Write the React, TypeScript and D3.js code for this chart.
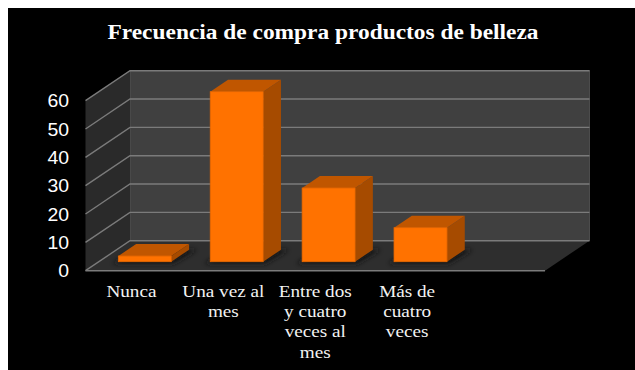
import React from "react";
import * as d3 from "d3";

const categories = ["Nunca", "Una vez al mes", "Entre dos y cuatro veces al mes", "Más de cuatro veces", ""];
const categoryLines = [["Nunca"], ["Una vez al", "mes"], ["Entre dos", "y cuatro", "veces al", "mes"], ["Más de", "cuatro", "veces"], []];
const values = [2, 60, 26, 12];
const yTicks = [0, 10, 20, 30, 40, 50, 60];
const title = "Frecuencia de compra productos de belleza";

const WIDTH = 635;
const HEIGHT = 370;
const DEPTH_X = 44.5;
const DEPTH_Y = -30;
const BAR_START = 0.3;
const BAR_DEPTH = 0.4;

const x = d3.scaleBand<string>().domain(categories).range([85.5, 545]).paddingInner(0.424).paddingOuter(0.212);
const y = d3.scaleLinear().domain([0, 60]).range([270.7, 100.7]);

const poly = (pts: [number, number][]) => pts.map((p) => p.join(",")).join(" ");

export default function App() {
  const x0 = x.range()[0];
  const x1 = x.range()[1];
  const yBase = y(0);
  const yTop = y(60);
  const grid = "#7b7b7b";

  return (
    <svg width={WIDTH} height={HEIGHT} style={{ position: "absolute", left: 0, top: 0, background: "#fff" }}>
      <defs>
        <filter id="soft" x="-30%" y="-60%" width="160%" height="220%">
          <feGaussianBlur stdDeviation="2.6" />
        </filter>
        <clipPath id="floorClip">
          <polygon points={poly([[x0, yBase], [x1, yBase], [x1 + DEPTH_X, yBase + DEPTH_Y], [x0 + DEPTH_X, yBase + DEPTH_Y]])} />
        </clipPath>
      </defs>
      <rect x={8} y={8} width={WIDTH - 8} height={HEIGHT - 8} fill="#000" />

      {/* the type is set wide: each label is stretched horizontally about its centre */}
      <text
        transform="translate(323,39) scale(1.17,1)"
        textAnchor="middle"
        fill="#fff"
        fontFamily="'Liberation Serif', serif"
        fontWeight="bold"
        fontSize={20}
      >
        {title}
      </text>

      {/* chart box: back wall, side wall, floor */}
      <rect x={x0 + DEPTH_X} y={yTop + DEPTH_Y} width={x1 - x0} height={yBase - yTop} fill="#404040" stroke="#575757" strokeWidth={0.8} />
      <polygon points={poly([[x0, yBase], [x0 + DEPTH_X, yBase + DEPTH_Y], [x0 + DEPTH_X, yTop + DEPTH_Y], [x0, yTop]])} fill="#2a2a2a" />
      <polygon points={poly([[x0, yBase], [x1, yBase], [x1 + DEPTH_X, yBase + DEPTH_Y], [x0 + DEPTH_X, yBase + DEPTH_Y]])} fill="#2e2e2e" />

      {yTicks.map((t) => (
        <g key={t}>
          <polyline
            points={poly([[x0, y(t)], [x0 + DEPTH_X, y(t) + DEPTH_Y], [x1 + DEPTH_X, y(t) + DEPTH_Y]])}
            fill="none"
            stroke={grid}
            strokeWidth={1.4}
          />
          <text
            transform={`translate(69,${y(t)}) scale(1.08,1)`}
            dy="0.36em"
            textAnchor="end"
            fill="#fff"
            fontFamily="'Liberation Sans', sans-serif"
            fontSize={18}
          >
            {t}
          </text>
        </g>
      ))}
      <line x1={x0} x2={x1} y1={yBase} y2={yBase} stroke={grid} strokeWidth={1.6} />

      {/* contact shadows on the floor */}
      <g clipPath="url(#floorClip)">
        {values.map((_, i) => {
          const left = x(categories[i])! + DEPTH_X * BAR_START;
          const w = x.bandwidth();
          const b = yBase + DEPTH_Y * BAR_START;
          const dx = DEPTH_X * BAR_DEPTH;
          const dy = DEPTH_Y * BAR_DEPTH;
          return (
            <polygon
              key={i}
              points={poly([[left - 6, b + 2], [left + w + 2, b + 2], [left + w + dx + 8, b + dy], [left + dx, b + dy]])}
              fill="#181818"
              filter="url(#soft)"
            />
          );
        })}
      </g>

      {values.map((v, i) => {
        const left = x(categories[i])! + DEPTH_X * BAR_START;
        const right = left + x.bandwidth();
        const shiftY = DEPTH_Y * BAR_START;
        const top = y(v) + shiftY;
        const bottom = yBase + shiftY;
        const dx = DEPTH_X * BAR_DEPTH;
        const dy = DEPTH_Y * BAR_DEPTH;
        return (
          <g key={i}>
            <polygon points={poly([[right, top], [right + dx, top + dy], [right + dx, bottom + dy], [right, bottom]])} fill="#a64b00" />
            <polygon points={poly([[left, top], [left + dx, top + dy], [right + dx, top + dy], [right, top]])} fill="#c05600" />
            <rect x={left} y={top} width={right - left} height={bottom - top} fill="#ff7200" stroke="#e86800" strokeWidth={0.8} />
          </g>
        );
      })}

      {categoryLines.map((lines, i) =>
        lines.map((line, j) => (
          <text
            key={`${i}-${j}`}
            transform={`translate(${x(categories[i])! + x.bandwidth() / 2},${296.7 + j * 20.3}) scale(1.2,1)`}
            textAnchor="middle"
            fill="#f2f2f2"
            fontFamily="'Liberation Serif', serif"
            fontSize={16}
          >
            {line}
          </text>
        ))
      )}
    </svg>
  );
}
